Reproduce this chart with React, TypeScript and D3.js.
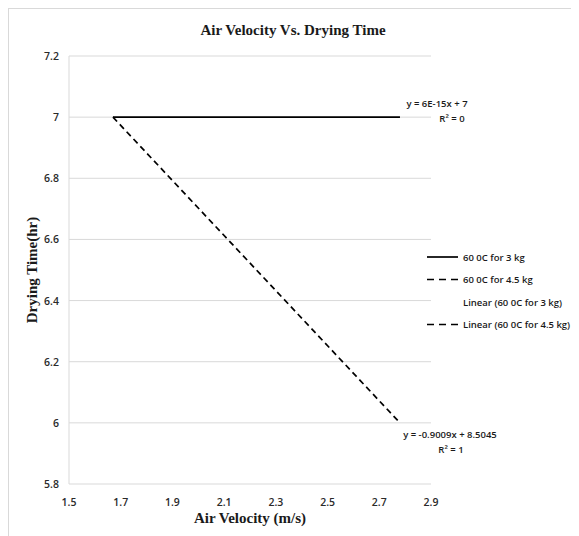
import React from "react";
import * as d3 from "d3";

const seriesSolidX = [1.67, 2.78];
const seriesSolidY = [7, 7];
const seriesDashX = [1.67, 2.78];
const seriesDashY = [7, 6];
const xTicks = [1.5, 1.7, 1.9, 2.1, 2.3, 2.5, 2.7, 2.9];
const yTicks = [5.8, 6, 6.2, 6.4, 6.6, 6.8, 7, 7.2];
const legendLabels = ["60 0C for 3 kg", "60 0C for 4.5 kg", "Linear (60 0C for 3 kg)", "Linear (60 0C for 4.5 kg)"];
const legendStyles = ["solid", "dash", "none", "dash"];

const OX = 8, OY = 8;

export default function App() {
  const x = d3.scaleLinear().domain([1.5, 2.9]).range([69 - OX, 431 - OX]);
  const y = d3.scaleLinear().domain([5.8, 7.2]).range([484 - OY, 56 - OY]);
  const line = d3.line<[number, number]>().x(d => x(d[0])).y(d => y(d[1]));
  const solid = seriesSolidX.map((v, i) => [v, seriesSolidY[i]] as [number, number]);
  const dash = seriesDashX.map((v, i) => [v, seriesDashY[i]] as [number, number]);
  const lab = "'Open Sans', 'Liberation Sans', sans-serif";
  return (
    <svg width={571} height={528} style={{ display: "block" }}>
      <rect x={0.5} y={0.5} width={600} height={600} fill="#fff" stroke="#d9d9d9" />
      <text x={293 - OX} y={35 - OY} textAnchor="middle" fontFamily="'Liberation Serif', serif" fontWeight="bold" fontSize={15} fill="#1a1a1a">Air Velocity Vs. Drying Time</text>
      {yTicks.map(t => (
        <line key={"g" + t} x1={x(1.5)} x2={x(2.9)} y1={y(t)} y2={y(t)} stroke="#d9d9d9" strokeWidth={1} />
      ))}
      <line x1={x(1.5)} x2={x(1.5)} y1={y(5.8)} y2={y(7.2)} stroke="#d9d9d9" />
      {yTicks.map(t => (
        <text key={"y" + t} x={x(1.5) - 10} y={y(t) + 4} textAnchor="end" fontFamily={lab} fontSize={10.5} fontWeight={600} fill="#2a2a2a">{d3.format("")(t)}</text>
      ))}
      {xTicks.map(t => (
        <text key={"x" + t} x={x(t)} y={y(5.8) + 22} textAnchor="middle" fontFamily={lab} fontSize={10.5} fontWeight={600} fill="#2a2a2a">{t.toFixed(1)}</text>
      ))}
      <text x={(x(1.5) + x(2.9)) / 2} y={523 - OY} textAnchor="middle" fontFamily="'Liberation Serif', serif" fontWeight="bold" fontSize={15} fill="#1a1a1a">Air Velocity (m/s)</text>
      <text transform={`translate(${37 - OX},${270 - OY}) rotate(-90)`} textAnchor="middle" fontFamily="'Liberation Serif', serif" fontWeight="bold" fontSize={15} fill="#1a1a1a">Drying Time(hr)</text>
      <path d={line(solid) || ""} fill="none" stroke="#000" strokeWidth={1.7} />
      <path d={line(dash) || ""} fill="none" stroke="#000" strokeWidth={1.7} strokeDasharray="6,4" />
      <text x={437 - OX} y={107 - OY} textAnchor="middle" fontFamily={lab} fontSize={9.5} fontWeight={600} fill="#1a1a1a">y = 6E-15x + 7</text>
      <text x={452 - OX} y={122 - OY} textAnchor="middle" fontFamily={lab} fontSize={9.5} fontWeight={600} fill="#1a1a1a">R² = 0</text>
      <text x={450 - OX} y={438 - OY} textAnchor="middle" fontFamily={lab} fontSize={9.5} fontWeight={600} fill="#1a1a1a">y = -0.9009x + 8.5045</text>
      <text x={451 - OX} y={453 - OY} textAnchor="middle" fontFamily={lab} fontSize={9.5} fontWeight={600} fill="#1a1a1a">R² = 1</text>
      {legendLabels.map((l, i) => {
        const ly = 257 + i * 22.5 - OY;
        return (
          <g key={l}>
            {legendStyles[i] !== "none" && (
              <line x1={427 - OX} x2={458 - OX} y1={ly} y2={ly} stroke="#000" strokeWidth={1.7} strokeDasharray={legendStyles[i] === "dash" ? "7,5" : undefined} />
            )}
            <text x={463 - OX} y={ly + 3.5} fontFamily={lab} fontSize={9.5} fontWeight={600} fill="#1a1a1a">{l}</text>
          </g>
        );
      })}
    </svg>
  );
}
